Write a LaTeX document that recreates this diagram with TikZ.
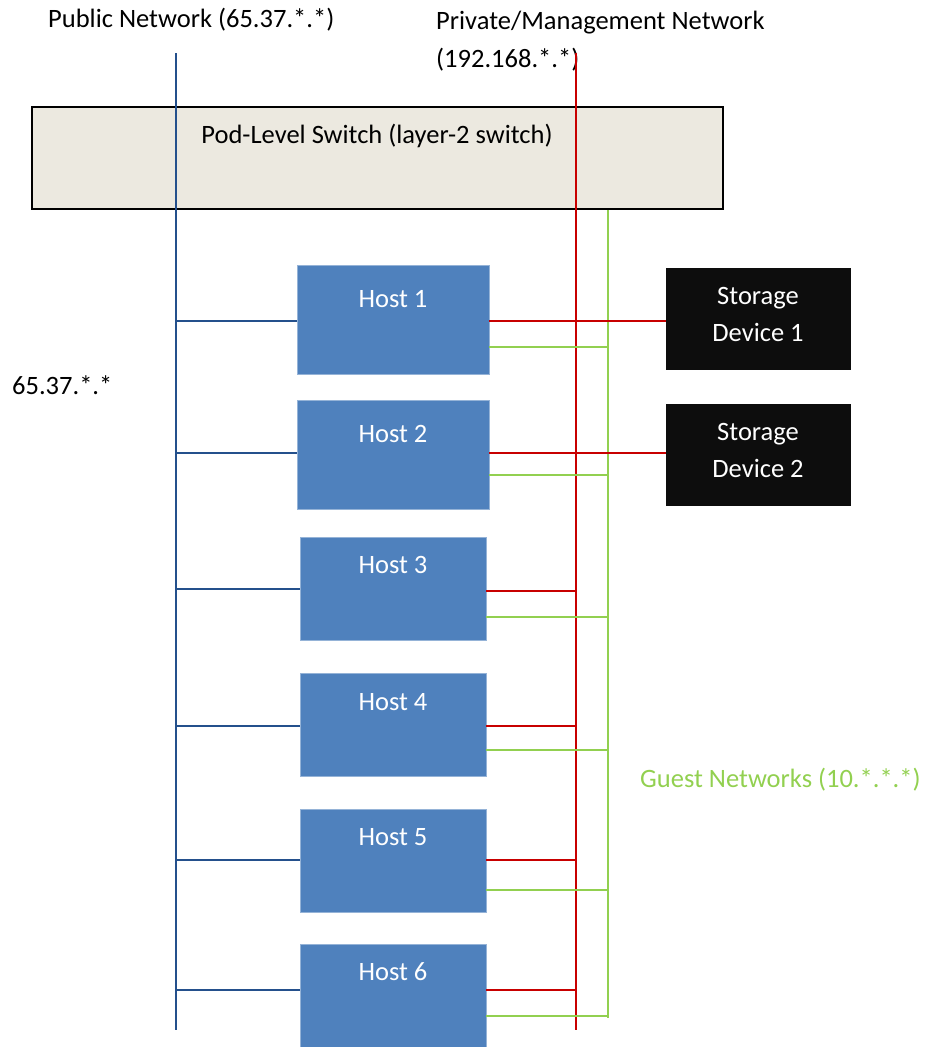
\documentclass[tikz,border=0pt]{standalone}
\usepackage{fontspec}
\setmainfont{Carlito}
\begin{document}
\begin{tikzpicture}[x=1pt,y=-1pt,
  txt/.style={font=\fontsize{26.5}{37}\selectfont, inner sep=0pt},
  host/.style={fill=hostblue, draw=hostblue!60!white, line width=0.6pt, minimum width=#1, inner sep=0pt},
  stor/.style={fill=storblack, draw=none, minimum width=185pt, minimum height=102pt, inner sep=0pt},
  pub/.style={draw=pubblue, line width=2pt},
  priv/.style={draw=privred, line width=2pt},
  guest/.style={draw=guestgreen, line width=2pt}]
\definecolor{hostblue}{HTML}{4F81BD}
\definecolor{storblack}{HTML}{0D0D0D}
\definecolor{pubblue}{HTML}{24508C}
\definecolor{privred}{HTML}{C80000}
\definecolor{guestgreen}{HTML}{92D050}
\definecolor{switchfill}{HTML}{ECE9E0}
\useasboundingbox (0,0) rectangle (925,1047);

% switch
\node[draw=black, line width=2pt, fill=switchfill, minimum width=691pt, minimum height=102pt, inner sep=0pt] (sw) at (377.5,158) {};
\node[txt] (swl) at (377,136) {Pod-Level Switch (layer-2 switch)};

% labels
\node[txt, anchor=west] (publ) at (48,20) {Public Network (65.37.*.*)};
\node[txt, anchor=west] (privl) at (436,23) {Private/Management Network};
\node[txt, anchor=west] (privl2) at (436,60) {(192.168.*.*)};
\node[txt, anchor=west] (pubip) at (12,385) {65.37.*.*};
\node[txt, anchor=west, text=guestgreen] (guestl) at (640,780) {Guest Networks (10.*.*.*)};

% hosts
\node[host=192pt, minimum height=109pt] (h1) at (393,319.5) {};
\node[host=192pt, minimum height=109pt] (h2) at (393,454.5) {};
\node[host=186pt, minimum height=103pt] (h3) at (393,588.5) {};
\node[host=186pt, minimum height=103pt] (h4) at (393,724.5) {};
\node[host=186pt, minimum height=103pt] (h5) at (393,860.5) {};
\node[host=186pt, minimum height=103pt] (h6) at (393,995.5) {};
\node[txt, text=white] (h1l) at (393,299) {Host 1};
\node[txt, text=white] (h2l) at (393,434) {Host 2};
\node[txt, text=white] (h3l) at (393,565) {Host 3};
\node[txt, text=white] (h4l) at (393,702) {Host 4};
\node[txt, text=white] (h5l) at (393,837) {Host 5};
\node[txt, text=white] (h6l) at (393,972) {Host 6};

% storage
\node[stor] (s1) at (758.5,319) {};
\node[stor] (s2) at (758.5,455) {};
\node[txt, text=white, align=center] (s1l) at (758,314) {Storage\\Device 1};
\node[txt, text=white, align=center] (s2l) at (758,450) {Storage\\Device 2};

% buses
\coordinate (pubT) at (176,53);
\coordinate (pubB) at (176,1030);
\coordinate (privT) at (576,53);
\coordinate (privB) at (576,1030);
\coordinate (gT) at (608,210);
\coordinate (gB) at (608,1018);
\draw[pub] (pubT) -- (pubB);
\draw[priv] (privT) -- (privB);
\draw[guest] (gT) -- (gB);

% public taps
\foreach \h/\y in {h1/321,h2/453,h3/589,h4/726,h5/860,h6/990}
  \draw[pub] (pubT |- 0,\y) -- (\h.west |- 0,\y);
% private taps
\draw[priv] (h1.east |- 0,321) -- (s1.west |- 0,321);
\draw[priv] (h2.east |- 0,453) -- (s2.west |- 0,453);
\foreach \h/\y in {h3/591,h4/726,h5/860,h6/990}
  \draw[priv] (\h.east |- 0,\y) -- (privT |- 0,\y);
% guest taps
\foreach \h/\y in {h1/347,h2/475,h3/617,h4/750,h5/890,h6/1016}
  \draw[guest] (\h.east |- 0,\y) -- (gT |- 0,\y);
\end{tikzpicture}
\end{document}
